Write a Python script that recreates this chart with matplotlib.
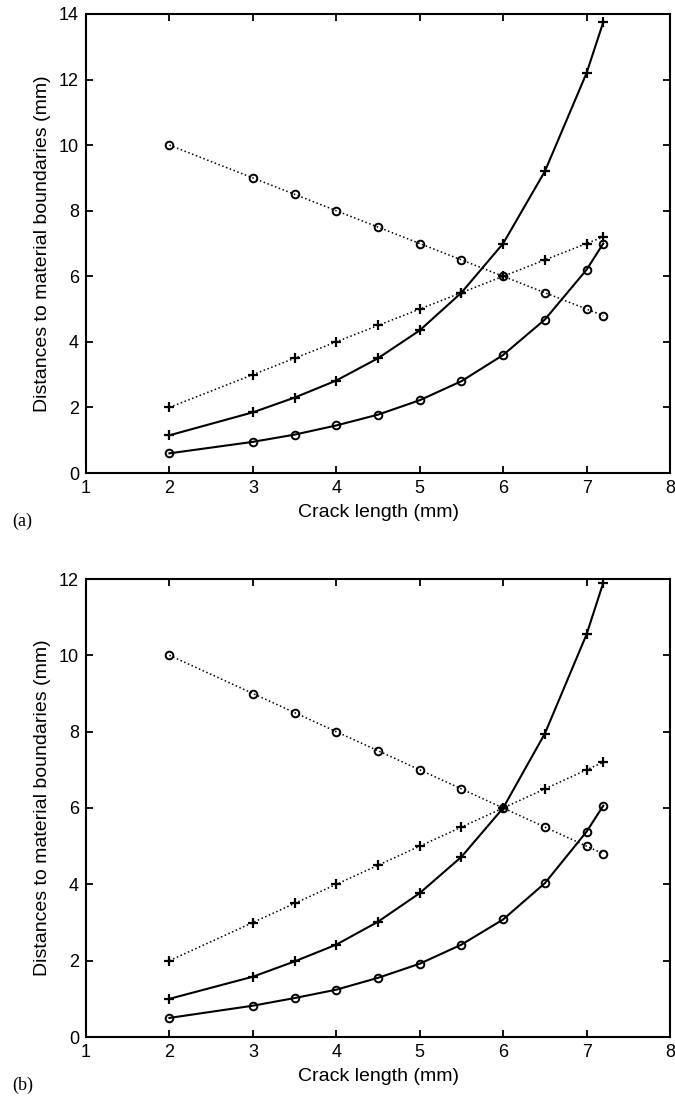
import matplotlib
matplotlib.use("Agg")
import matplotlib.pyplot as plt

plt.rcParams['font.family'] = ['Liberation Sans', 'DejaVu Sans']

# crack lengths (mm)
crack = [2, 3, 3.5, 4, 4.5, 5, 5.5, 6, 6.5, 7, 7.2]

# dotted series (same in both panels)
dot_circle = [10, 9, 8.5, 8, 7.5, 7, 6.5, 6, 5.5, 5, 4.8]
dot_plus = [2, 3, 3.5, 4, 4.5, 5, 5.5, 6, 6.5, 7, 7.2]

# panel (a) solid series
a_plus = [1.15, 1.85, 2.3, 2.82, 3.5, 4.35, 5.5, 7.0, 9.2, 12.2, 13.75]
a_circle = [0.6, 0.95, 1.17, 1.45, 1.78, 2.22, 2.8, 3.6, 4.68, 6.2, 7.0]

# panel (b) solid series
b_plus = [1.0, 1.58, 1.98, 2.42, 3.02, 3.77, 4.72, 6.0, 7.95, 10.55, 11.9]
b_circle = [0.5, 0.82, 1.02, 1.24, 1.55, 1.92, 2.42, 3.08, 4.03, 5.38, 6.06]

W, H = 675, 1097
fig = plt.figure(figsize=(W / 100, H / 100), dpi=100)


def panel(top, bottom, ymax, solid_plus, solid_circle, tag):
    ax = fig.add_axes([86 / W, 1 - bottom / H, (670 - 86) / W, (bottom - top) / H])
    ax.plot(crack, dot_circle, ls=':', lw=1.1, color='k', marker='o', ms=5.5,
            mfc='none', mec='k', mew=1.4)
    ax.plot(crack, dot_plus, ls=':', lw=1.1, color='k', marker='+', ms=7, mew=1.6)
    ax.plot(crack, solid_plus, ls='-', lw=1.5, color='k', marker='+', ms=7, mew=1.6)
    ax.plot(crack, solid_circle, ls='-', lw=1.5, color='k', marker='o', ms=5.5,
            mfc='none', mec='k', mew=1.4)
    ax.set_xlim(1, 8)
    ax.set_ylim(0, ymax)
    ax.set_xticks(range(1, 9))
    ax.set_yticks(range(0, ymax + 1, 2))
    ax.tick_params(direction='in', top=True, right=True, length=5, width=1.3,
                   labelsize=13, pad=5)
    for s in ax.spines.values():
        s.set_linewidth(1.5)
    ax.set_xlabel('Crack length (mm)', fontsize=14, labelpad=5)
    ax.set_ylabel('Distances to material boundaries (mm)', fontsize=14, labelpad=6)
    fig.text(12 / W, 1 - (bottom + 48) / H, tag, fontsize=13,
             family='Liberation Serif', va='center', ha='left')
    return ax


panel(14, 473, 14, a_plus, a_circle, '(a)')
panel(579, 1037, 12, b_plus, b_circle, '(b)')

fig.savefig('out.png', dpi=100)
